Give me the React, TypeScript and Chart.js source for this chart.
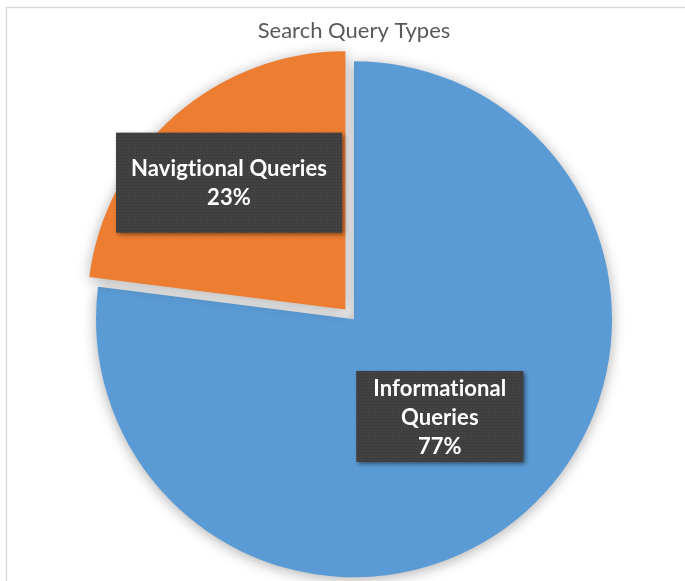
import React, { useEffect, useRef } from "react";
import { Chart, registerables } from "chart.js";

Chart.register(...registerables);

// ---- data ----
const categories: (string | string[])[] = [["Informational", "Queries"], "Navigtional Queries"];
const values: number[] = [77, 23];
const sliceColors: string[] = ["#5B9BD5", "#ED7D31"];
const sliceOffsets: number[] = [0, 52];
const titleText = "Search Query Types";

// ---- label styling ----
const labelRadiusFraction: number[] = [0.503, 0.667];
const labelAngleShift: number[] = [0, -0.02];
const labelPadX: number[] = [17, 15];
const labelPadY: number[] = [2, 21];
const labelFontSize = 22;
const labelLineHeight = 29;

function makePattern(ctx: CanvasRenderingContext2D): CanvasPattern | string {
  const c = document.createElement("canvas");
  c.width = 3;
  c.height = 3;
  const p = c.getContext("2d");
  if (!p) return "#404040";
  p.fillStyle = "#3d3d3d";
  p.fillRect(0, 0, 3, 3);
  p.fillStyle = "#4a4a4a";
  p.fillRect(0, 0, 1, 1);
  p.fillRect(2, 1, 1, 1);
  const pat = ctx.createPattern(c, "repeat");
  return pat || "#404040";
}

export default function App() {
  const ref = useRef<HTMLCanvasElement>(null);

  useEffect(() => {
    const canvas = ref.current;
    if (!canvas) return;

    const framePlugin = {
      id: "frame",
      beforeDraw(chart: any) {
        const ctx = chart.ctx as CanvasRenderingContext2D;
        ctx.save();
        ctx.fillStyle = "#ffffff";
        ctx.fillRect(0, 0, chart.width, chart.height);
        ctx.strokeStyle = "#d9d9d9";
        ctx.lineWidth = 1.5;
        ctx.beginPath();
        ctx.moveTo(6.5, chart.height);
        ctx.lineTo(6.5, 7.5);
        ctx.lineTo(chart.width, 7.5);
        ctx.stroke();
        ctx.restore();
      },
    };

    const pieDecor = {
      id: "pieDecor",
      beforeDatasetsDraw(chart: any) {
        const ctx = chart.ctx as CanvasRenderingContext2D;
        ctx.save();
        ctx.shadowColor = "rgba(0,0,0,0.32)";
        ctx.shadowBlur = 14;
        ctx.shadowOffsetX = 0;
        ctx.shadowOffsetY = 2;
      },
      afterDatasetsDraw(chart: any) {
        const ctx = chart.ctx as CanvasRenderingContext2D;
        ctx.restore();
        const meta = chart.getDatasetMeta(0);
        const total = values.reduce((a, b) => a + b, 0);
        const fill = makePattern(ctx);
        meta.data.forEach((arc: any, i: number) => {
          const { x, y, startAngle, endAngle, outerRadius } = arc.getProps(
            ["x", "y", "startAngle", "endAngle", "outerRadius"],
            true
          );
          const mid = (startAngle + endAngle) / 2;
          const off = (arc.options.offset || 0) / 4;
          const cx = x + Math.cos(mid) * off;
          const cy = y + Math.sin(mid) * off;
          const la = mid + labelAngleShift[i];
          const lx = cx + Math.cos(la) * outerRadius * labelRadiusFraction[i];
          const ly = cy + Math.sin(la) * outerRadius * labelRadiusFraction[i];
          const cat = categories[i];
          const lines = Array.isArray(cat) ? [...cat] : [cat];
          lines.push(Math.round((values[i] / total) * 100) + "%");
          ctx.save();
          ctx.font = `bold ${labelFontSize}px Lato, "Open Sans", sans-serif`;
          (ctx as any).letterSpacing = "0.1px";
          const tw = Math.max(...lines.map((l) => ctx.measureText(l).width));
          const w = tw + 2 * labelPadX[i];
          const h = lines.length * labelLineHeight + 2 * labelPadY[i];
          ctx.shadowColor = "rgba(0,0,0,0.45)";
          ctx.shadowBlur = 4;
          ctx.shadowOffsetX = 2;
          ctx.shadowOffsetY = 2;
          ctx.fillStyle = fill as any;
          ctx.fillRect(lx - w / 2, ly - h / 2, w, h);
          ctx.shadowColor = "transparent";
          ctx.shadowBlur = 0;
          ctx.shadowOffsetX = 0;
          ctx.shadowOffsetY = 0;
          ctx.fillStyle = "#ffffff";
          ctx.textAlign = "center";
          ctx.textBaseline = "middle";
          const y0 = ly - ((lines.length - 1) * labelLineHeight) / 2;
          lines.forEach((l, k) => ctx.fillText(l, lx, y0 + k * labelLineHeight + 1));
          ctx.restore();
        });
      },
    };

    const chart = new Chart(canvas, {
      type: "pie",
      data: {
        labels: categories as any,
        datasets: [
          {
            data: values,
            backgroundColor: sliceColors,
            borderWidth: 0,
            offset: sliceOffsets,
          },
        ],
      },
      options: {
        responsive: false,
        animation: false,
        radius: 258,
        layout: { padding: { left: 23, right: 0, top: 0, bottom: 0 } },
        plugins: {
          legend: { display: false },
          tooltip: { enabled: false },
          title: {
            display: true,
            text: titleText,
            color: "#595959",
            font: { family: "Lato, 'Open Sans', sans-serif", size: 22, weight: "normal", lineHeight: 1.2 },
            padding: { top: 18, bottom: 13 },
          },
        },
      } as any,
      plugins: [framePlugin, pieDecor],
    });

    return () => chart.destroy();
  }, []);

  return (
    <canvas
      ref={ref}
      width={685}
      height={581}
      style={{ position: "absolute", left: 0, top: 0, display: "block" }}
    />
  );
}
